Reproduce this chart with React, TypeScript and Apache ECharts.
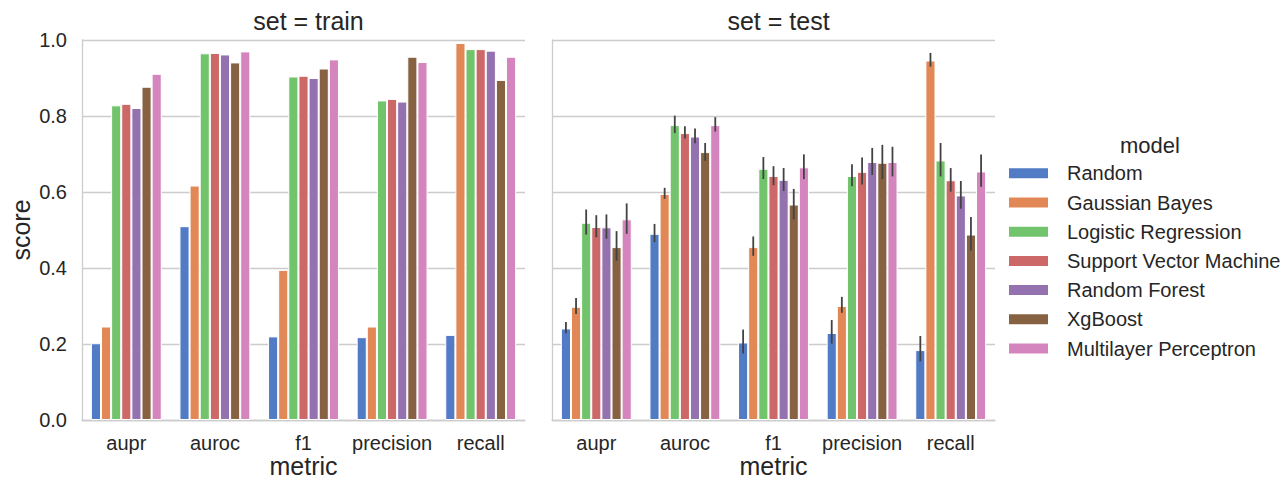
import React, { useEffect, useRef } from "react";
import * as echarts from "echarts";

const metrics = ["aupr", "auroc", "f1", "precision", "recall"];
const models = [
  "Random",
  "Gaussian Bayes",
  "Logistic Regression",
  "Support Vector Machine",
  "Random Forest",
  "XgBoost",
  "Multilayer Perceptron",
];
const colors = ["#527bc6", "#e28856", "#71c46c", "#cd6868", "#9471af", "#866242", "#d585bd"];

// train scores: one array per model, over metrics
const trainRandom = [0.202, 0.51, 0.22, 0.218, 0.224];
const trainGaussian = [0.246, 0.617, 0.395, 0.246, 0.992];
const trainLogistic = [0.828, 0.965, 0.904, 0.841, 0.976];
const trainSVM = [0.832, 0.966, 0.906, 0.845, 0.976];
const trainForest = [0.821, 0.962, 0.9, 0.838, 0.972];
const trainXgb = [0.877, 0.941, 0.925, 0.956, 0.895];
const trainMLP = [0.911, 0.97, 0.949, 0.942, 0.956];

// test scores
const testRandom = [0.241, 0.49, 0.204, 0.229, 0.184];
const testGaussian = [0.298, 0.595, 0.455, 0.3, 0.946];
const testLogistic = [0.519, 0.776, 0.661, 0.642, 0.683];
const testSVM = [0.508, 0.755, 0.642, 0.653, 0.631];
const testForest = [0.507, 0.746, 0.632, 0.679, 0.591];
const testXgb = [0.455, 0.705, 0.567, 0.677, 0.488];
const testMLP = [0.528, 0.776, 0.665, 0.679, 0.654];

// test confidence intervals (low / high)
const lowRandom = [0.228, 0.468, 0.175, 0.201, 0.154];
const highRandom = [0.258, 0.516, 0.238, 0.263, 0.221];
const lowGaussian = [0.279, 0.582, 0.432, 0.282, 0.93];
const highGaussian = [0.321, 0.611, 0.483, 0.324, 0.966];
const lowLogistic = [0.488, 0.755, 0.634, 0.615, 0.641];
const highLogistic = [0.554, 0.801, 0.692, 0.673, 0.729];
const lowSVM = [0.481, 0.741, 0.618, 0.62, 0.601];
const highSVM = [0.539, 0.773, 0.668, 0.691, 0.663];
const lowForest = [0.477, 0.728, 0.603, 0.645, 0.556];
const highForest = [0.541, 0.767, 0.663, 0.716, 0.629];
const lowXgb = [0.419, 0.682, 0.528, 0.634, 0.446];
const highXgb = [0.497, 0.729, 0.608, 0.724, 0.534];
const lowMLP = [0.49, 0.759, 0.634, 0.641, 0.614];
const highMLP = [0.57, 0.797, 0.699, 0.719, 0.699];

const yTicks = [0, 0.2, 0.4, 0.6, 0.8, 1.0];

const trainData = [trainRandom, trainGaussian, trainLogistic, trainSVM, trainForest, trainXgb, trainMLP];
const testData = [testRandom, testGaussian, testLogistic, testSVM, testForest, testXgb, testMLP];
const lowData = [lowRandom, lowGaussian, lowLogistic, lowSVM, lowForest, lowXgb, lowMLP];
const highData = [highRandom, highGaussian, highLogistic, highSVM, highForest, highXgb, highMLP];

const FONT = "'Liberation Sans', Arial, sans-serif";
const TEXT = "#262626";
const GRIDC = "#cccccc";

export default function App() {
  const ref = useRef<HTMLDivElement>(null);
  useEffect(() => {
    if (!ref.current) return;
    const chart = echarts.init(ref.current, null, { renderer: "svg" });

    const xAxisBase = (gridIndex: number) => ({
      type: "category",
      gridIndex,
      data: metrics,
      axisLine: { show: true, lineStyle: { color: GRIDC, width: 1.3 } },
      axisTick: { show: false },
      axisLabel: { color: TEXT, fontSize: 20, fontFamily: FONT, margin: 13, interval: 0 },
      name: "metric",
      nameLocation: "middle",
      nameGap: 33,
      nameMoveOverlap: false,
      nameTextStyle: { color: TEXT, fontSize: 25, lineHeight: 25, fontFamily: FONT },
      splitLine: { show: false },
    });
    const yAxisBase = (gridIndex: number, labels: boolean) => ({
      type: "value",
      gridIndex,
      min: yTicks[0],
      max: yTicks[yTicks.length - 1],
      interval: 0.2,
      axisLine: { show: true, lineStyle: { color: GRIDC, width: 1.3 } },
      axisTick: { show: false },
      axisLabel: {
        show: labels,
        color: TEXT,
        fontSize: 20,
        fontFamily: FONT,
        margin: 15,
        formatter: (v: number) => v.toFixed(1),
      },
      splitLine: { show: true, lineStyle: { color: GRIDC, width: 1.3 } },
      name: labels ? "score" : "",
      nameLocation: "middle",
      nameGap: 49,
      nameMoveOverlap: false,
      nameTextStyle: { color: TEXT, fontSize: 25, fontFamily: FONT },
    });

    const series: any[] = [];
    models.forEach((m, i) => {
      series.push({
        type: "bar",
        name: m,
        xAxisIndex: 0,
        yAxisIndex: 0,
        data: trainData[i],
        barGap: "0%",
        barCategoryGap: "20%",
        itemStyle: { color: colors[i], borderColor: "#ffffff", borderWidth: 1 },
      });
    });
    models.forEach((m, i) => {
      series.push({
        type: "bar",
        name: m,
        xAxisIndex: 1,
        yAxisIndex: 1,
        data: testData[i],
        barGap: "0%",
        barCategoryGap: "20%",
        itemStyle: { color: colors[i], borderColor: "#ffffff", borderWidth: 1 },
      });
    });

    const errData: number[][] = [];
    models.forEach((_, i) => {
      metrics.forEach((__, c) => {
        errData.push([c, i, lowData[i][c], highData[i][c]]);
      });
    });
    series.push({
      type: "custom",
      name: "ci",
      xAxisIndex: 1,
      yAxisIndex: 1,
      z: 10,
      encode: { x: 0, y: [2, 3] },
      data: errData,
      renderItem: (params: any, api: any) => {
        const c = api.value(0);
        const mi = api.value(1);
        const lo = api.coord([c, api.value(2)]);
        const hi = api.coord([c, api.value(3)]);
        const band = api.size([1, 0])[0];
        const bw = (band * 0.8) / models.length;
        const x = lo[0] + (mi - (models.length - 1) / 2) * bw;
        return {
          type: "line",
          shape: { x1: x, y1: lo[1], x2: x, y2: hi[1] },
          style: { stroke: "#424242", lineWidth: 1.8 },
        };
      },
    });

    chart.setOption({
      animation: false,
      backgroundColor: "#ffffff",
      textStyle: { fontFamily: FONT },
      title: [
        {
          text: "set = train",
          left: 303.5,
          textAlign: "center",
          top: 3,
          textStyle: { color: TEXT, fontSize: 25, fontWeight: "normal", fontFamily: FONT },
        },
        {
          text: "set = test",
          left: 773.5,
          textAlign: "center",
          top: 3,
          textStyle: { color: TEXT, fontSize: 25, fontWeight: "normal", fontFamily: FONT },
        },
        {
          text: "model",
          left: 1145,
          textAlign: "center",
          top: 129,
          textStyle: { color: TEXT, fontSize: 22, fontWeight: "normal", fontFamily: FONT },
        },
      ],
      legend: {
        data: models,
        orient: "vertical",
        left: 1002,
        top: 158.3,
        icon: "rect",
        itemWidth: 41,
        itemHeight: 12,
        itemGap: 9.2,
        textStyle: { color: TEXT, fontSize: 20, fontFamily: FONT, lineHeight: 20, padding: [0, 0, 0, 13] },
      },
      grid: [
        { left: 82, top: 40, width: 443, height: 380, outerBoundsMode: "none", containLabel: false },
        { left: 552, top: 40, width: 443, height: 380, outerBoundsMode: "none", containLabel: false },
      ],
      xAxis: [xAxisBase(0), xAxisBase(1)],
      yAxis: [yAxisBase(0, true), yAxisBase(1, false)],
      series,
    });
    return () => chart.dispose();
  }, []);
  return (
    <div
      ref={ref}
      style={{ position: "absolute", left: 0, top: 0, width: 1286, height: 481 }}
    />
  );
}
